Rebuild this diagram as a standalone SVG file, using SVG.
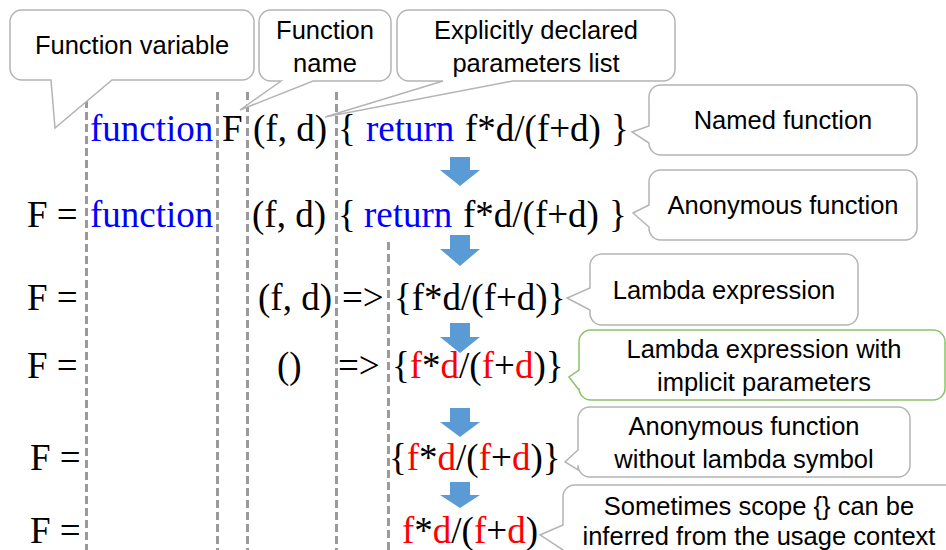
<svg xmlns="http://www.w3.org/2000/svg" width="946" height="550" viewBox="0 0 946 550">
<style>
.code{font-family:"Liberation Serif","Times New Roman",serif;font-size:37px;fill:#000}
.kw{fill:#0000ff}
.p{fill:#ff0000}
.lbl{font-family:"Liberation Sans",Arial,sans-serif;font-size:25.5px;fill:#000;text-anchor:middle}
.co{fill:#fff;stroke:#b4b4b4;stroke-width:1.5}
.cog{fill:#fff;stroke:#8cc26a;stroke-width:1.5}
.dash{stroke:#9a9a9a;stroke-width:3;stroke-dasharray:8 4;fill:none}
.arr{fill:#5b9bd5}
</style>
<rect width="946" height="550" fill="#fff"/>
<g id="guides">
<line class="dash" x1="86.5" y1="100" x2="86.5" y2="550"/>
<line class="dash" x1="217.5" y1="92" x2="217.5" y2="550"/>
<line class="dash" x1="247.5" y1="92" x2="247.5" y2="550"/>
<line class="dash" x1="336.5" y1="92" x2="336.5" y2="550"/>
<line class="dash" x1="388.5" y1="242" x2="388.5" y2="550"/>
</g>
<g id="connectors">
<polygon class="arr" points="450,157 470,157 470,170 480,170 460,186 440,170 450,170"/>
<polygon class="arr" points="450,235 470,235 470,249 480,249 460,266 440,249 450,249"/>
<polygon class="arr" points="450,323 470,323 470,337 480,337 460,353 440,337 450,337"/>
<polygon class="arr" points="450,408 470,408 470,422 480,422 460,437 440,422 450,422"/>
<polygon class="arr" points="450,482 470,482 470,495 480,495 460,508 440,495 450,495"/>
</g>
<g id="row1">
<text class="code" y="141"><tspan x="90" class="kw">function</tspan><tspan x="222">F</tspan><tspan x="253">(f, d)</tspan><tspan x="338">{</tspan><tspan x="366" class="kw">return</tspan><tspan x="465">f*d/(f+d)</tspan><tspan x="611">}</tspan></text>
</g>
<g id="row2">
<text class="code" y="227"><tspan x="27">F =</tspan><tspan x="90" class="kw">function</tspan><tspan x="252">(f, d)</tspan><tspan x="338">{</tspan><tspan x="364" class="kw">return</tspan><tspan x="463">f*d/(f+d)</tspan><tspan x="609">}</tspan></text>
</g>
<g id="row3">
<text class="code" y="310"><tspan x="27">F =</tspan><tspan x="258">(f, d)</tspan><tspan x="342">=&gt;</tspan><tspan x="394">{f*d/(f+d)}</tspan></text>
</g>
<g id="row4">
<text class="code" y="378"><tspan x="27">F =</tspan><tspan x="277">()</tspan><tspan x="338">=&gt;</tspan><tspan x="392">{</tspan><tspan class="p">f</tspan>*<tspan class="p">d</tspan>/(<tspan class="p">f</tspan>+<tspan class="p">d</tspan>)}</text>
</g>
<g id="row5">
<text class="code" y="470"><tspan x="30">F =</tspan><tspan x="389">{</tspan><tspan class="p">f</tspan>*<tspan class="p">d</tspan>/(<tspan class="p">f</tspan>+<tspan class="p">d</tspan>)}</text>
</g>
<g id="row6">
<text class="code" y="543"><tspan x="30">F =</tspan><tspan x="402" class="p">f</tspan>*<tspan class="p">d</tspan>/(<tspan class="p">f</tspan>+<tspan class="p">d</tspan>)</text>
</g>
<g id="callout-function-variable">
<path class="co" d="M21.7,10 H242.3 A11.7,11.7 0 0 1 254,21.7 V68.3 A11.7,11.7 0 0 1 242.3,80 H112 L55,128 L51,80 H21.7 A11.7,11.7 0 0 1 10,68.3 V21.7 A11.7,11.7 0 0 1 21.7,10 Z"/>
<text class="lbl" x="132" y="54">Function variable</text>
</g>
<g id="callout-function-name">
<path class="co" d="M270.7,10 H379.3 A11.7,11.7 0 0 1 391,21.7 V69.3 A11.7,11.7 0 0 1 379.3,81 H313 L240,110 L281,81 H270.7 A11.7,11.7 0 0 1 259,69.3 V21.7 A11.7,11.7 0 0 1 270.7,10 Z"/>
<text class="lbl" x="325" y="39">Function</text>
<text class="lbl" x="325" y="72">name</text>
</g>
<g id="callout-parameters">
<path class="co" d="M408.7,10 H663.3 A11.7,11.7 0 0 1 675,21.7 V69.3 A11.7,11.7 0 0 1 663.3,81 H513 L325,117 L443,81 H408.7 A11.7,11.7 0 0 1 397,69.3 V21.7 A11.7,11.7 0 0 1 408.7,10 Z"/>
<text class="lbl" x="536" y="39">Explicitly declared</text>
<text class="lbl" x="536" y="72">parameters list</text>
</g>
<g id="callout-named">
<path class="co" d="M660.7,85 H905.3 A11.7,11.7 0 0 1 917,96.7 V143.3 A11.7,11.7 0 0 1 905.3,155 H660.7 A11.7,11.7 0 0 1 649,143.3 V143 L632,132 L649,126 V96.7 A11.7,11.7 0 0 1 660.7,85 Z"/>
<text class="lbl" x="783" y="129">Named function</text>
</g>
<g id="callout-anonymous">
<path class="co" d="M660.7,170 H905.3 A11.7,11.7 0 0 1 917,181.7 V228.3 A11.7,11.7 0 0 1 905.3,240 H660.7 A11.7,11.7 0 0 1 649,228.3 V227 L633,213 L649,205 V181.7 A11.7,11.7 0 0 1 660.7,170 Z"/>
<text class="lbl" x="783" y="214">Anonymous function</text>
</g>
<g id="callout-lambda">
<path class="co" d="M601.7,254 H846.3 A11.7,11.7 0 0 1 858,265.7 V313.3 A11.7,11.7 0 0 1 846.3,325 H601.7 A11.7,11.7 0 0 1 590,313.3 V310 L567,298 L590,288 V265.7 A11.7,11.7 0 0 1 601.7,254 Z"/>
<text class="lbl" x="724" y="299">Lambda expression</text>
</g>
<g id="callout-implicit">
<path class="cog" d="M590.7,330 H933.3 A11.7,11.7 0 0 1 945,341.7 V388.3 A11.7,11.7 0 0 1 933.3,400 H590.7 A11.7,11.7 0 0 1 579,388.3 V390 L569,377 L579,370 V341.7 A11.7,11.7 0 0 1 590.7,330 Z"/>
<text class="lbl" x="764" y="358">Lambda expression with</text>
<text class="lbl" x="764" y="391">implicit parameters</text>
</g>
<g id="callout-no-lambda">
<path class="co" d="M589.7,407 H898.3 A11.7,11.7 0 0 1 910,418.7 V465.3 A11.7,11.7 0 0 1 898.3,477 H589.7 A11.7,11.7 0 0 1 578,465.3 V470 L565,462 L578,450 V418.7 A11.7,11.7 0 0 1 589.7,407 Z"/>
<text class="lbl" x="744" y="435">Anonymous function</text>
<text class="lbl" x="744" y="468">without lambda symbol</text>
</g>
<g id="callout-scope">
<path class="co" d="M574.7,485 H950 V560 H563 L563,550 L540,535 L563,525 V496.7 A11.7,11.7 0 0 1 574.7,485 Z"/>
<text class="lbl" x="759" y="515">Sometimes scope {} can be</text>
<text class="lbl" x="759" y="545">inferred from the usage context</text>
</g>
</svg>
